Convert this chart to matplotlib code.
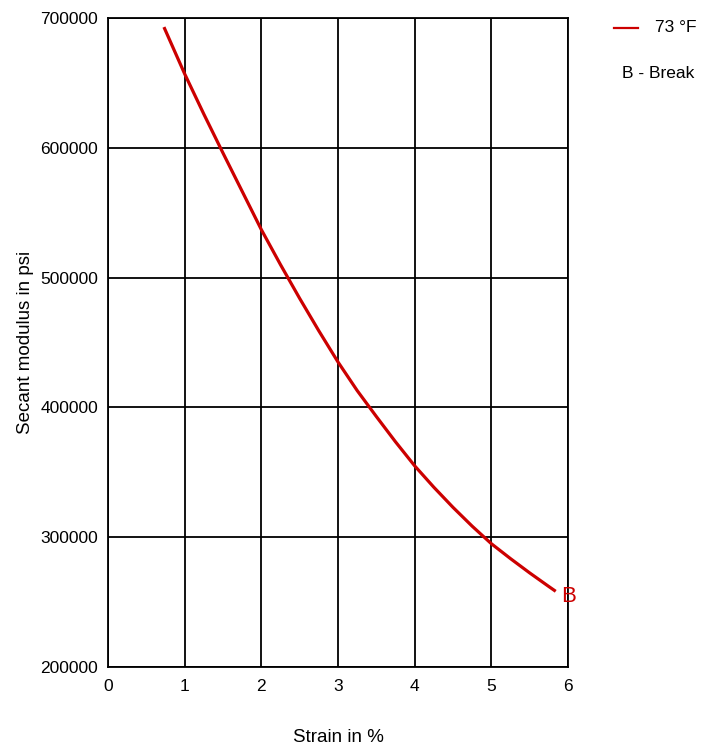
import matplotlib
matplotlib.use("Agg")
import matplotlib.pyplot as plt

plt.rcParams['font.family'] = ['Liberation Sans', 'DejaVu Sans']

# curve (strain %, secant modulus psi)
strain = [0.73, 1.0, 1.25, 1.5, 1.75, 2.0, 2.25, 2.5, 2.75, 3.0, 3.25, 3.5,
          3.75, 4.0, 4.25, 4.5, 4.75, 5.0, 5.25, 5.5, 5.75, 5.84]
modulus = [693000, 657000, 626000, 596000, 566500, 537000, 510000, 484000,
           459000, 435000, 413000, 393000, 373500, 355000, 338500, 323000,
           308500, 295000, 283500, 272500, 262000, 258300]
x_ticks = [0, 1, 2, 3, 4, 5, 6]
y_ticks = [200000, 300000, 400000, 500000, 600000, 700000]
series_label = "73 °F"
break_label = "B"
red = "#cc0000"

fig = plt.figure(figsize=(7.02, 7.47), dpi=100)
ax = fig.add_axes([0.1538, 0.1071, 0.6553, 0.8688])

ax.plot(strain, modulus, color=red, lw=2.3, solid_capstyle='butt',
        solid_joinstyle='round')
ax.annotate(break_label, (strain[-1], modulus[-1]), xytext=(4, -3.5),
            textcoords='offset points', color=red, fontsize=16,
            family=['Liberation Sans', 'DejaVu Sans'], va='center', ha='left')

ax.set_xlim(0, 6)
ax.set_ylim(200000, 700000)
ax.set_xticks(x_ticks)
ax.set_yticks(y_ticks)
ax.set_yticklabels([str(v) for v in y_ticks])
ax.grid(True, color='black', lw=1.3)
for s in ax.spines.values():
    s.set_linewidth(1.3)
ax.tick_params(length=0, labelsize=12.5)
ax.tick_params(axis='y', pad=7)
ax.tick_params(axis='x', pad=9)

ax.set_xlabel("Strain in %", fontsize=13.5)
ax.xaxis.label.set_va('center')
ax.xaxis.set_label_coords(0.5, -0.108)
ax.set_ylabel("Secant modulus in psi", fontsize=13.5)
ax.yaxis.label.set_va('center')
ax.yaxis.set_label_coords(-0.18, 0.5)

# legend outside to the right
fig.add_artist(plt.Line2D([614 / 702, 638 / 702], [1 - 28 / 747, 1 - 28 / 747],
                          color=red, lw=1.6))
fig.text(655 / 702, 1 - 28 / 747, series_label, fontsize=12.5, va='center', ha='left')
fig.text(622 / 702, 1 - 73 / 747, "B - Break", fontsize=12.5, va='center', ha='left')

fig.savefig("out.png", dpi=100)
